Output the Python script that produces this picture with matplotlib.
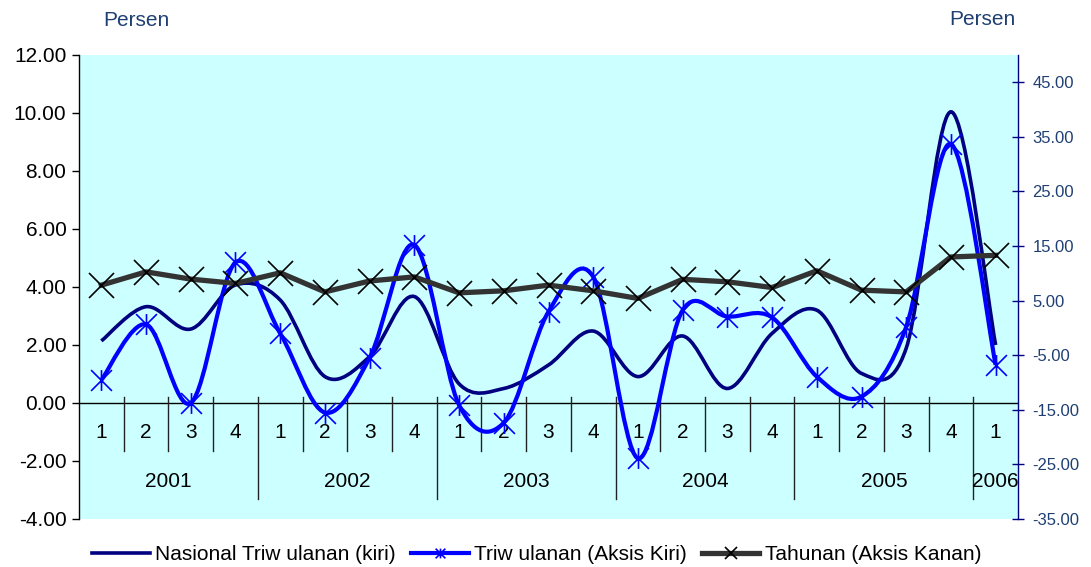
import matplotlib
matplotlib.use("Agg")
import matplotlib.pyplot as plt
from matplotlib.path import Path
from matplotlib.patches import PathPatch
from matplotlib.lines import Line2D
from matplotlib.ticker import FormatStrFormatter

plt.rcParams['font.family'] = ['Liberation Sans', 'DejaVu Sans']

# ── Data ──────────────────────────────────────────────────────────────────────
kuartal = ['1', '2', '3', '4'] * 5 + ['1']
tahun = ['2001', '2002', '2003', '2004', '2005', '2006']
tahun_pos = [1.5, 5.5, 9.5, 13.5, 17.5, 20]

nasional_qtq = [2.14, 3.32, 2.55, 4.07, 3.55, 0.91, 1.60, 3.67, 0.66, 0.50, 1.31,
                2.48, 0.91, 2.31, 0.50, 2.40, 3.20, 1.02, 1.89, 10.04, 2.00]
triwulanan = [0.79, 2.71, 0.00, 4.85, 2.40, -0.33, 1.56, 5.45, -0.07, -0.68, 3.15,
              4.35, -1.91, 3.20, 2.98, 2.95, 0.91, 0.22, 2.63, 8.93, 1.31]
tahunan = [7.84, 10.27, 8.94, 8.15, 10.10, 6.60, 8.60, 9.35, 6.43, 6.80, 7.84,
           6.80, 5.40, 8.90, 8.45, 7.40, 10.47, 6.92, 6.60, 13.00, 13.30]

x = list(range(len(kuartal)))

NAVY = '#000080'
BLUE = '#0000FF'
GRAY = '#333333'
TXT_BLUE = '#1f3f73'


def smooth_path(xs, ys):
    # garis halus gaya Excel (Bezier dengan titik kontrol 1/6)
    n = len(xs)
    verts = [(xs[0], ys[0])]
    codes = [Path.MOVETO]
    for i in range(n - 1):
        a = i - 1 if i > 0 else i
        d = i + 2 if i + 2 < n else i + 1
        c1 = (xs[i] + (xs[i + 1] - xs[a]) / 6, ys[i] + (ys[i + 1] - ys[a]) / 6)
        c2 = (xs[i + 1] - (xs[d] - xs[i]) / 6, ys[i + 1] - (ys[d] - ys[i]) / 6)
        verts += [c1, c2, (xs[i + 1], ys[i + 1])]
        codes += [Path.CURVE4] * 3
    return Path(verts, codes)


star = Path([(-1, -1), (1, 1), (-1, 1), (1, -1), (0, -1), (0, 1)],
            [Path.MOVETO, Path.LINETO] * 3)

# ── Figure ────────────────────────────────────────────────────────────────────
fig = plt.figure(figsize=(10.91, 5.67), dpi=100)
ax = fig.add_axes([0.0724, 0.0847, 0.8607, 0.8183])
ax.set_facecolor('#CCFFFF')
ax.set_xlim(-0.5, 20.5)
ax.set_ylim(-4, 12)
ax.set_yticks(range(-4, 13, 2))
ax.yaxis.set_major_formatter(FormatStrFormatter('%.2f'))
ax.tick_params(axis='y', direction='out', length=5, width=1, labelsize=15, pad=4)
ax.set_xticks([])
for s in ['top', 'bottom', 'right']:
    ax.spines[s].set_visible(False)
ax.spines['left'].set_linewidth(1)

ax2 = ax.twinx()
ax2.set_ylim(-35, 50)
ax2.set_yticks(range(-35, 46, 10))
ax2.yaxis.set_major_formatter(FormatStrFormatter('%.2f'))
ax2.tick_params(axis='y', direction='inout', length=9, width=1, color=NAVY,
                labelsize=12, labelcolor=TXT_BLUE, pad=6)
for s in ['top', 'bottom', 'left']:
    ax2.spines[s].set_visible(False)
ax2.spines['right'].set_color(NAVY)
ax2.spines['right'].set_linewidth(1)

# sumbu kategori di y = 0
ax.axhline(0, color='black', lw=1, zorder=2)
for i in range(len(x) - 1):
    b = i + 0.5
    bawah = -3.3 if i % 4 == 3 else -1.66
    ax.plot([b, b], [0.2, bawah], color='#222222', lw=1, zorder=2)
for xi, q in zip(x, kuartal):
    ax.text(xi, -1.03, q, ha='center', va='center', fontsize=15)
for xp, th in zip(tahun_pos, tahun):
    ax.text(xp, -2.72, th, ha='center', va='center', fontsize=15)

# seri
ax.add_patch(PathPatch(smooth_path(x, nasional_qtq), fill=False, edgecolor=NAVY,
                       lw=2.6, zorder=3))
ax.add_patch(PathPatch(smooth_path(x, triwulanan), fill=False, edgecolor=BLUE,
                       lw=3, zorder=4))
ax.plot(x, triwulanan, linestyle='none', marker=star, markersize=15,
        markeredgecolor=BLUE, markeredgewidth=1.2, zorder=5)
ax2.plot(x, tahunan, color=GRAY, lw=3.8, marker='x', markersize=18,
         markeredgecolor='black', markeredgewidth=1.2, zorder=6)

# judul sumbu
fig.text(0.125, 0.963, 'Persen', ha='center', va='center', fontsize=15, color=TXT_BLUE)
fig.text(0.900, 0.965, 'Persen', ha='center', va='center', fontsize=15, color=TXT_BLUE)

# legenda
handles = [
    Line2D([], [], color=NAVY, lw=2.6),
    Line2D([], [], color=BLUE, lw=3, marker=star, markersize=7,
           markeredgecolor=BLUE, markeredgewidth=1.2),
    Line2D([], [], color=GRAY, lw=3.8, marker='x', markersize=8,
           markeredgecolor='black', markeredgewidth=1.2),
]
labels = ['Nasional Triw ulanan (kiri)', 'Triw ulanan (Aksis Kiri)',
          'Tahunan (Aksis Kanan)']
fig.legend(handles, labels, loc='center', bbox_to_anchor=(0.492, 0.022), ncol=3,
           frameon=False, fontsize=15, handlelength=2.75, handletextpad=0.25,
           columnspacing=0.75, borderpad=0.1)

fig.savefig('out.png', dpi=100)
